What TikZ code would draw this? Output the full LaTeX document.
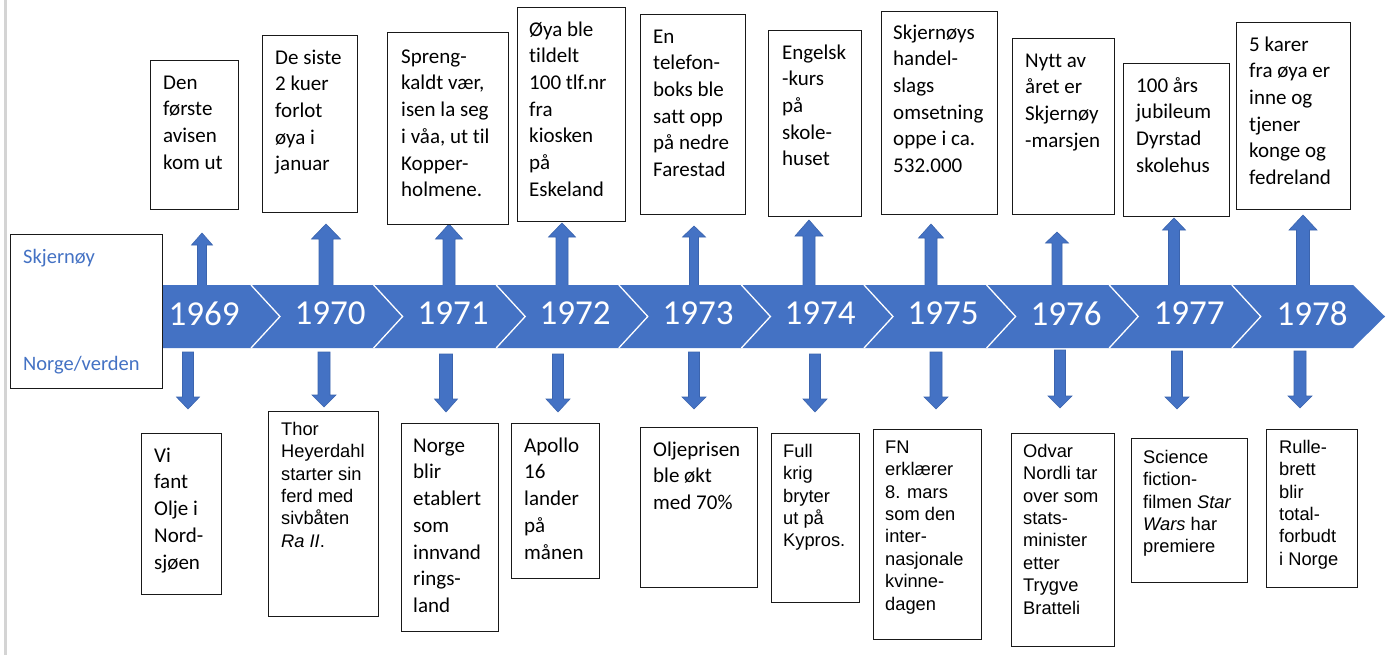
\documentclass[tikz,border=0pt]{standalone}
\usepackage{fontspec}
\newfontfamily\calfont[Ligatures=NoCommon]{Carlito}
\newfontfamily\arialfont{Liberation Sans}
\definecolor{officeblue}{HTML}{4472C4}
\definecolor{arrowedge}{HTML}{3B64AE}
\definecolor{legendblue}{HTML}{4472C4}
\definecolor{framegray}{HTML}{D4D4D4}
\tikzset{
  box/.style={draw=black!90, line width=1pt, rectangle, inner sep=0pt, anchor=north west, fill=white},
  cal/.style={font=\calfont\fontsize{21}{26.7}\selectfont, align=left, inner sep=0pt, anchor=north west},
  ari/.style={font=\arialfont\fontsize{18.3}{22.4}\selectfont, align=left, inner sep=0pt, anchor=north west},
  year/.style={font=\calfont\fontsize{35}{40}\selectfont, text=white, inner sep=0pt},
  legend/.style={font=\calfont\fontsize{20.5}{24}\selectfont, text=legendblue, inner sep=0pt, anchor=base west},
  blk/.style={fill=officeblue, draw=arrowedge, line width=0.6pt, line join=miter},
  band/.style={fill=officeblue},
  sep/.style={draw=white, line width=1.3pt}
}
% block arrow: cx, base, headbase, tip, shaft width, head width
\newcommand\blkarrow[6]{%
  \path[blk] ({#1-#5/2},#2) -- ({#1-#5/2},#3) -- ({#1-#6/2},#3) -- (#1,#4)
    -- ({#1+#6/2},#3) -- ({#1+#5/2},#3) -- ({#1+#5/2},#2) -- cycle;}
% event box: name, x1, y1, x2, y2
\newcommand\evbox[5]{%
  \node[box, minimum width={#4-#2}, minimum height={#5-#3}] (#1) at (#2,#3) {};}
% event text: name, style, x, first baseline, text
\newcommand\evtext[5]{%
  \node[#2] (#1) at (#3,{#4-20}) {\rule{0pt}{20pt}#5};}
\begin{document}
\begin{tikzpicture}[x=1pt,y=-1pt]
\useasboundingbox (0,0) rectangle (1394,655);
\fill[white] (0,0) rectangle (1394,655);
\fill[framegray] (4,0) rectangle (6.6,655);

% up arrows
\blkarrow{202}{290}{245}{233}{9}{21}
\blkarrow{326}{290}{239}{224}{14}{29}
\blkarrow{449}{290}{239}{224}{12}{27}
\blkarrow{562}{290}{237}{223}{12}{27}
\blkarrow{694}{290}{237}{226}{9}{23}
\blkarrow{809}{290}{236}{220}{12}{28}
\blkarrow{931}{290}{238}{224}{12}{25}
\blkarrow{1057}{290}{243}{232}{10}{23}
\blkarrow{1174}{290}{230}{218}{11}{23}
\blkarrow{1303}{290}{230}{215}{13}{28}
% down arrows
\blkarrow{188}{352}{397}{409}{11}{23}
\blkarrow{324}{352}{395}{407}{12}{24}
\blkarrow{446}{354}{399}{412}{13}{23}
\blkarrow{558}{354}{399}{412}{11}{24}
\blkarrow{694}{352}{397}{409}{11}{24}
\blkarrow{815}{354}{399}{412}{11}{24}
\blkarrow{936}{352}{397}{409}{12}{24}
\blkarrow{1060}{350}{396}{408}{11}{24}
\blkarrow{1177}{351}{397}{409}{11}{24}
\blkarrow{1300}{351}{396}{408}{12}{24}

% band
\path[band] (162,285) -- (1353,285) -- (1385,316.5) -- (1353,348) -- (162,348) -- cycle;
\foreach \i in {0,...,8}{
  \draw[sep] ({251+122.6*\i},285) -- ({280+122.6*\i},316.5) -- ({251+122.6*\i},348);
}
\node[year] (y69) at (204,313.5) {1969};
\node[year] (y70) at (330,313.5) {1970};
\node[year] (y71) at (453,313.5) {1971};
\node[year] (y72) at (575,313.5) {1972};
\node[year] (y73) at (698,313.5) {1973};
\node[year] (y74) at (820,313.5) {1974};
\node[year] (y75) at (943,313.5) {1975};
\node[year] (y76) at (1066,313.5) {1976};
\node[year] (y77) at (1189,313.5) {1977};
\node[year] (y78) at (1312,313.5) {1978};

% legend
\evbox{leg}{10}{234}{162}{388}
\node[legend] (legA) at (23,263.3) {Skjernøy};
\node[legend] (legB) at (23,370) {Norge/verden};

% top boxes
\evbox{T69}{150}{60}{238}{209}
\evbox{T70}{262}{35}{357}{212}
\evbox{T71}{387}{32}{508}{224}
\evbox{T72}{517}{7}{625}{221}
\evbox{T73}{640}{14}{745}{214}
\evbox{T74}{768}{30}{861}{216}
\evbox{T75}{881}{11}{997}{214}
\evbox{T76}{1012}{38}{1114}{214}
\evbox{T77}{1123}{63}{1229}{216}
\evbox{T78}{1236}{22}{1350}{209}
\evtext{T69t}{cal}{163}{89}{Den\\første\\avisen\\kom ut}
\evtext{T70t}{cal}{275}{64}{De siste\\2 kuer\\forlot\\øya i\\januar}
\evtext{T71t}{cal}{401}{63}{Spreng-\\kaldt vær,\\isen la seg\\i våa, ut til\\Kopper-\\holmene.}
\evtext{T72t}{cal}{529}{36}{Øya ble\\tildelt\\100 tlf.nr\\fra\\kiosken\\på\\Eskeland}
\evtext{T73t}{cal}{653}{43}{En\\telefon-\\boks ble\\satt opp\\på nedre\\Farestad}
\evtext{T74t}{cal}{782}{59}{Engelsk\\-kurs\\på\\skole-\\huset}
\evtext{T75t}{cal}{893}{39}{Skjernøys\\handel-\\slags\\omsetning\\oppe i ca.\\532.000}
\evtext{T76t}{cal}{1025}{67}{Nytt av\\året er\\Skjernøy\\-marsjen}
\evtext{T77t}{cal}{1136}{92}{100 års\\jubileum\\Dyrstad\\skolehus}
\evtext{T78t}{cal}{1249}{51}{5 karer\\fra øya er\\inne og\\tjener\\konge og\\fedreland}

% bottom boxes
\evbox{B69}{141}{433}{221}{594}
\evbox{B70}{268}{411}{378}{616}
\evbox{B71}{401}{423}{498}{631}
\evbox{B72}{511}{423}{599}{578}
\evbox{B73}{640}{427}{757}{587}
\evbox{B74}{771}{433}{859}{602}
\evbox{B75}{873}{429}{981}{639}
\evbox{B76}{1011}{433}{1114}{646}
\evbox{B77}{1131}{438}{1247}{582}
\evbox{B78}{1266}{429}{1357}{587}
\evtext{B69t}{cal}{154}{462}{Vi\\fant\\Olje i\\Nord-\\sjøen}
\evtext{B70t}{ari}{281}{435}{Thor\\Heyerdahl\\starter sin\\ferd med\\sivbåten\\\textit{Ra II}.}
\evtext{B71t}{cal}{413}{452}{Norge\\blir\\etablert\\som\\innvand\\rings-\\land}
\evtext{B72t}{cal}{524}{452}{Apollo\\16\\lander\\på\\månen}
\evtext{B73t}{cal}{653}{456}{Oljeprisen\\ble økt\\med 70\%}
\evtext{B74t}{ari}{783}{457}{Full\\krig\\bryter\\ut på\\Kypros.}
\evtext{B75t}{ari}{885}{453}{FN\\erklærer\\8. mars\\som den\\inter-\\nasjonale\\kvinne-\\dagen}
\evtext{B76t}{ari}{1023}{457}{Odvar\\Nordli tar\\over som\\stats-\\minister\\etter\\Trygve\\Bratteli}
\evtext{B77t}{ari}{1143}{463}{Science\\fiction-\\filmen \textit{Star}\\\textit{Wars} har\\premiere}
\evtext{B78t}{ari}{1279}{453}{Rulle-\\brett\\blir\\total-\\forbudt\\i Norge}
\end{tikzpicture}
\end{document}
